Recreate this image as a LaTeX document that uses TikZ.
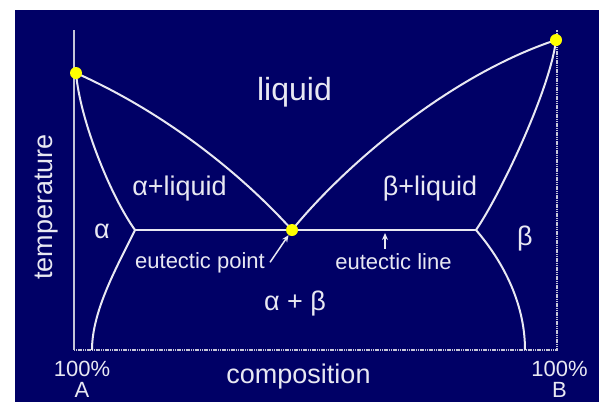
\documentclass[tikz,border=0pt]{standalone}
\usepackage{fontspec}
\setmainfont{Liberation Sans}
\usepackage{tikz}
\usetikzlibrary{arrows.meta,positioning}
\definecolor{bgnavy}{HTML}{000066}
\definecolor{linewhite}{HTML}{E8E8F2}
\definecolor{axisgray}{HTML}{C4C4D8}
\definecolor{dotyellow}{HTML}{FFFF00}

\begin{document}
\begin{tikzpicture}[x=1pt, y=-1pt,
  phase/.style={draw=linewhite, line width=2pt},
  axis/.style={draw=axisgray, line width=1.8pt},
  dot/.style={circle, fill=dotyellow, inner sep=0pt, minimum size=12pt},
  lbl/.style={text=linewhite, inner sep=0pt, font=\fontsize{27}{30}\selectfont},
  biglbl/.style={text=linewhite, inner sep=0pt, font=\fontsize{32}{36}\selectfont},
  small/.style={text=linewhite, inner sep=0pt, align=center, font=\fontsize{22}{21}\selectfont},
  arrow/.style={-{Stealth[length=7pt, width=6pt]}, draw=linewhite, line width=1.5pt},
]

% background
\fill[white] (0,0) rectangle (599,402);
\fill[bgnavy] (15,10) rectangle (599,402);

% axes
\coordinate (topA) at (74,30);
\coordinate (origin) at (74,350);
\coordinate (cornerB) at (557,350);
\coordinate (topB) at (557,30);
\draw[axis] (topA) -- (origin);
\draw[axis, dash pattern=on 1.2pt off 0.6pt] (origin) -- (cornerB) -- (topB);

% special points
\coordinate (meltA) at (76,73);
\coordinate (meltB) at (556,40);
\coordinate (eut) at (292,230);
\coordinate (solA) at (135,230);
\coordinate (solB) at (476,230);
\coordinate (baseA) at (92,350);
\coordinate (baseB) at (525,350);

% liquidus
\draw[phase] (meltA) .. controls (170,115) and (245,178) .. (eut);
\draw[phase] (eut) .. controls (345,165) and (450,75) .. (meltB);
% solidus
\draw[phase] (meltA) .. controls (80,120) and (110,195) .. (solA);
\draw[phase] (meltB) .. controls (550,90) and (500,195) .. (solB);
% solvus
\draw[phase] (solA) .. controls (118,265) and (92,310) .. (baseA);
\draw[phase] (solB) .. controls (500,258) and (525,300) .. (baseB);
% eutectic line
\draw[phase] (solA) -- (solB);

% dots
\node[dot] (dotA) at (meltA) {};
\node[dot] (dotB) at (meltB) {};
\node[dot] (doteut) at (eut) {};

% regions
\node[biglbl, anchor=base] (liq) at (294.5,100) {liquid};
\node[lbl, anchor=base] (aliq) at (179.5,195) {α+liquid};
\node[lbl, anchor=base] (bliq) at (430,195) {β+liquid};
\node[lbl, anchor=base] (alpha) at (102,238) {α};
\node[lbl, anchor=base] (beta) at (525,245) {β};
\node[lbl, anchor=base] (ab) at (295,310) {α + β};

% eutectic labels
\node[small, anchor=base] (ptlbl) at (200,268) {eutectic point};
\node[small, anchor=base] (linelbl) at (393.5,269) {eutectic line};
\coordinate (lineup) at (385,233);
\draw[arrow] ([xshift=5pt]ptlbl.east) -- (doteut);
\draw[arrow, shorten <=4pt] (linelbl.north -| lineup) -- (lineup);

% axis labels
\node[lbl, rotate=90] (temp) at (47,207) {temperature};
\node[lbl, anchor=base] (comp) at (298.5,383) {composition};
\node[small, anchor=base] (pureA) at (82,397) {100\%\\A};
\node[small, anchor=base] (pureB) at (559.5,397) {100\%\\B};

\end{tikzpicture}
\end{document}
